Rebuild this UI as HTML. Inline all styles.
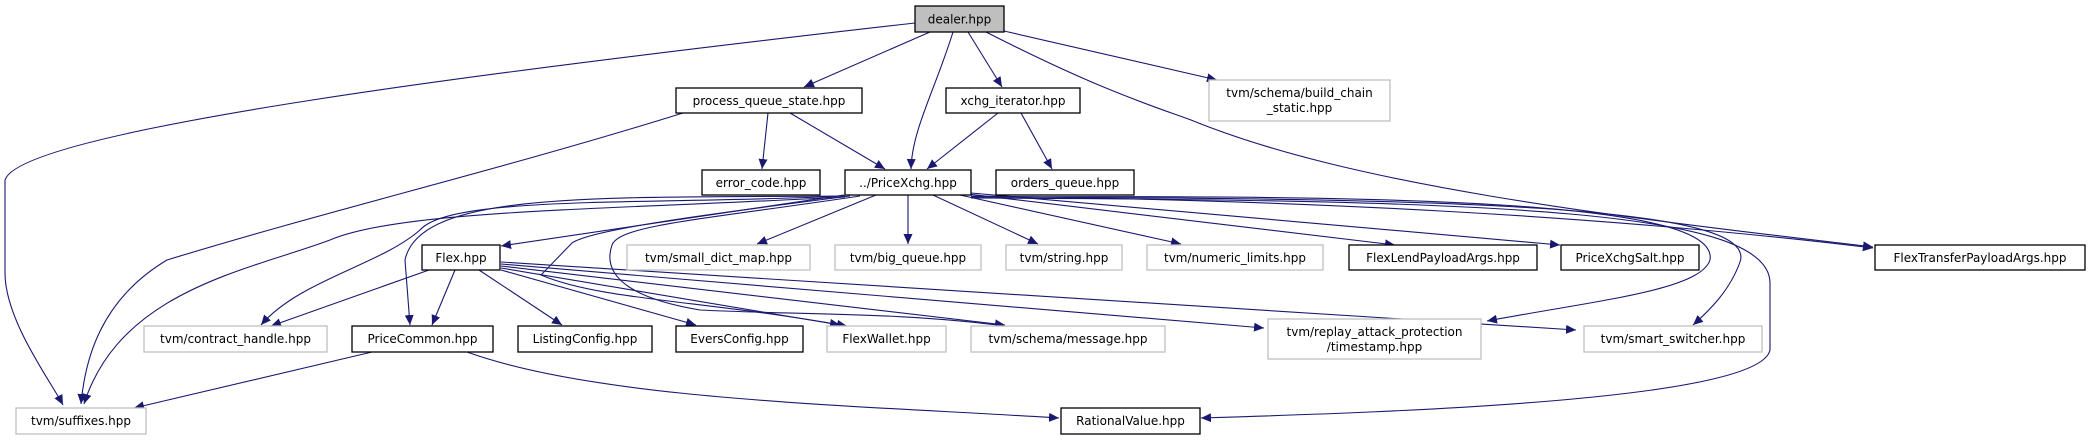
<!DOCTYPE html>
<html><head><meta charset="utf-8"><style>
html,body{margin:0;padding:0;background:#fff;}
svg{display:block;}
text{font-family:"DejaVu Sans","Liberation Sans",sans-serif;font-size:12px;fill:#000;}
.b{fill:#fff;stroke:#000;stroke-width:1.3;}
.g{fill:#fff;stroke:#bfbfbf;stroke-width:1.3;}
.e{fill:none;stroke:#191970;stroke-width:1.1;}
</style></head><body>
<svg width="2093" height="440" viewBox="0 0 2093 440" xmlns="http://www.w3.org/2000/svg">
<defs><marker id="a" markerUnits="userSpaceOnUse" markerWidth="11" markerHeight="9" refX="10" refY="4.5" orient="auto"><path d="M0,0 L10,4.5 L0,9 z" fill="#191970"/></marker></defs>
<g class="e" marker-end="url(#a)">
<path d="M915,23 C500,70 20,130 5,180 L5,273 C5,320 50,380 63,405"/>
<path d="M930,32 L804,87"/>
<path d="M953,32 C935,90 912,130 911,169"/>
<path d="M968,32 L1002,87"/>
<path d="M1004,31 L1217,80"/>
<path d="M986,32 C1100,90 1150,105 1191,120 C1350,185 1600,215 1873,247"/>
<path d="M683,113 C500,170 330,210 167,260 C100,300 85,360 81,404"/>
<path d="M768,113 L762,169"/>
<path d="M790,113 L885,169"/>
<path d="M998,113 L927,169"/>
<path d="M1021,113 L1052,169"/>
<path d="M844,195 L501,246"/>
<path d="M876,195 L757,244"/>
<path d="M908,195 L908,244"/>
<path d="M933,195 L1038,244"/>
<path d="M960,195 L1181,244"/>
<path d="M968,194 L1395,245"/>
<path d="M971,193 L1560,245"/>
<path d="M971,196 C1300,200 1600,215 1873,248"/>
<path d="M971,197 C1400,195 1720,200 1710,260 C1700,290 1600,300 1487,321"/>
<path d="M971,197 C1450,198 1760,205 1740,262 C1730,290 1710,310 1693,325"/>
<path d="M971,198 C1500,200 1770,210 1770,283 L1770,350 C1760,400 1400,412 1201,418"/>
<path d="M845,196 C600,198 420,190 405,260 L410,325"/>
<path d="M845,196 C650,205 450,195 420,230 C380,265 300,280 261,325"/>
<path d="M845,197 C600,210 400,210 330,240 C250,270 120,290 84,404"/>
<path d="M850,196 C700,215 590,230 572,243 L541,275 C600,300 700,300 847,326"/>
<path d="M860,196 C700,220 620,225 612,245 C600,280 640,300 700,310 C800,315 900,312 1005,326"/>
<path d="M429,270 L271,326"/>
<path d="M455,270 L432,325"/>
<path d="M479,270 L562,325"/>
<path d="M501,270 L696,325"/>
<path d="M501,268 L840,325"/>
<path d="M501,266 L1005,325"/>
<path d="M501,264 L1264,328"/>
<path d="M501,262 L1576,330"/>
<path d="M372,352 L134,408"/>
<path d="M467,352 C600,400 850,405 1059,418"/>
</g>
<rect x="915" y="6" width="89" height="26" fill="#bfbfbf" stroke="#000" stroke-width="1.3"/>
<text x="959.5" y="23.5" text-anchor="middle">dealer.hpp</text>
<g text-anchor="middle">
<rect class="b" x="676" y="88" width="186" height="25"/><text x="769" y="105">process_queue_state.hpp</text>
<rect class="b" x="946" y="88" width="134" height="25"/><text x="1013" y="105">xchg_iterator.hpp</text>
<rect class="g" x="1209" y="80" width="181" height="41"/><text x="1299.5" y="97">tvm/schema/build_chain</text><text x="1299.5" y="112">_static.hpp</text>
<rect class="b" x="702" y="170" width="118" height="25"/><text x="761" y="187">error_code.hpp</text>
<rect class="b" x="845" y="170" width="126" height="25"/><text x="908" y="187">../PriceXchg.hpp</text>
<rect class="b" x="996" y="170" width="138" height="25"/><text x="1065" y="187">orders_queue.hpp</text>
<rect class="b" x="422" y="245" width="78" height="25"/><text x="461" y="262">Flex.hpp</text>
<rect class="g" x="627" y="245" width="183" height="25"/><text x="718.5" y="262">tvm/small_dict_map.hpp</text>
<rect class="g" x="835" y="245" width="146" height="25"/><text x="908" y="262">tvm/big_queue.hpp</text>
<rect class="g" x="1006" y="245" width="116" height="25"/><text x="1064" y="262">tvm/string.hpp</text>
<rect class="g" x="1147" y="245" width="176" height="25"/><text x="1235" y="262">tvm/numeric_limits.hpp</text>
<rect class="b" x="1349" y="245" width="188" height="25"/><text x="1443" y="262">FlexLendPayloadArgs.hpp</text>
<rect class="b" x="1561" y="245" width="138" height="25"/><text x="1630" y="262">PriceXchgSalt.hpp</text>
<rect class="b" x="1875" y="245" width="210" height="25"/><text x="1980" y="262">FlexTransferPayloadArgs.hpp</text>
<rect class="g" x="144" y="326" width="183" height="26"/><text x="235.5" y="343">tvm/contract_handle.hpp</text>
<rect class="b" x="352" y="326" width="141" height="26"/><text x="422.5" y="343">PriceCommon.hpp</text>
<rect class="b" x="518" y="326" width="134" height="26"/><text x="585" y="343">ListingConfig.hpp</text>
<rect class="b" x="676" y="326" width="127" height="26"/><text x="739.5" y="343">EversConfig.hpp</text>
<rect class="g" x="827" y="326" width="119" height="26"/><text x="886.5" y="343">FlexWallet.hpp</text>
<rect class="g" x="971" y="326" width="194" height="26"/><text x="1068" y="343">tvm/schema/message.hpp</text>
<rect class="g" x="1268" y="319" width="213" height="40"/><text x="1374.5" y="336">tvm/replay_attack_protection</text><text x="1374.5" y="351">/timestamp.hpp</text>
<rect class="g" x="1584" y="326" width="178" height="26"/><text x="1673" y="343">tvm/smart_switcher.hpp</text>
<rect class="g" x="16" y="408" width="130" height="26"/><text x="81" y="425">tvm/suffixes.hpp</text>
<rect class="b" x="1061" y="408" width="139" height="26"/><text x="1130.5" y="425">RationalValue.hpp</text>
</g>
</svg>
</body></html>
